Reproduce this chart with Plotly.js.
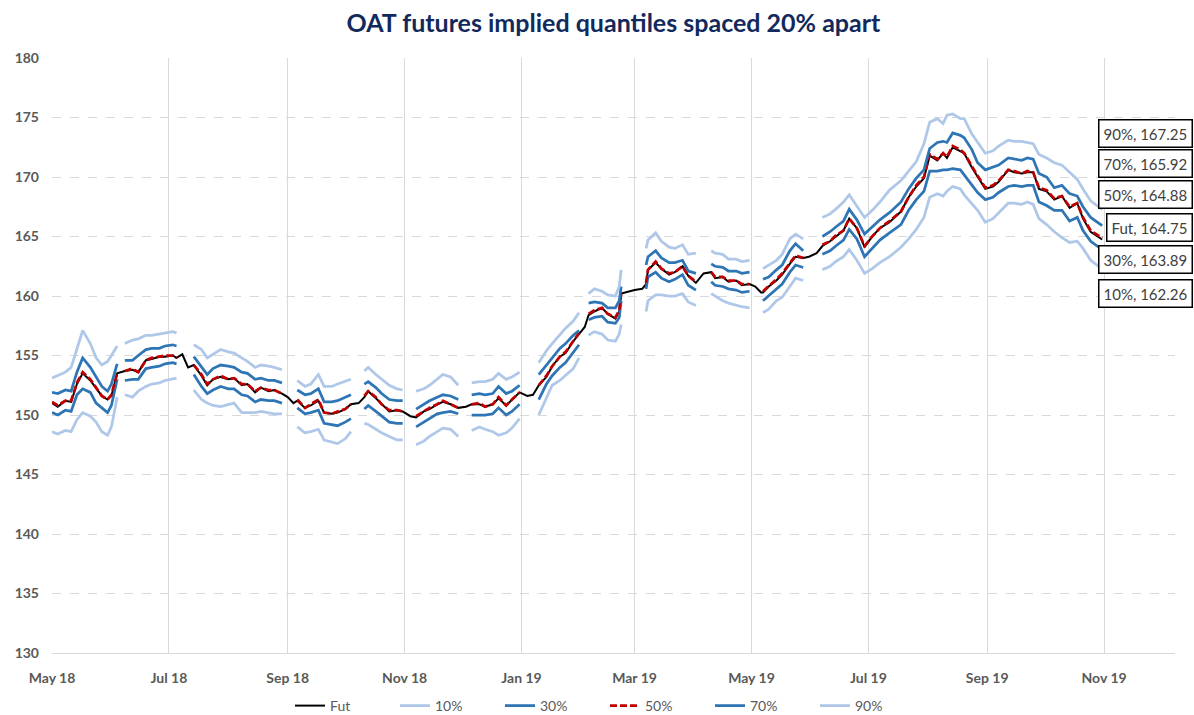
<!DOCTYPE html>
<html>
<head>
<meta charset="utf-8">
<script src="https://cdn.plot.ly/plotly-3.0.1.min.js"></script>
<style>
  body { margin: 0; background: #fff; }
  #plot { width: 1194px; height: 715px; }
</style>
</head>
<body>
<div id="plot"></div>
<script>
// Readings: dates, futures price and implied quantiles (null = no options data)
const dates = [
  '2018-05-01','2018-05-04','2018-05-08','2018-05-11','2018-05-14','2018-05-17','2018-05-21','2018-05-24','2018-05-27','2018-05-30','2018-06-01','2018-06-04',
  '2018-06-06',
  '2018-06-08','2018-06-12','2018-06-15','2018-06-19','2018-06-22','2018-06-26','2018-06-29','2018-07-03','2018-07-05',
  '2018-07-08','2018-07-11',
  '2018-07-14','2018-07-18','2018-07-21','2018-07-24','2018-07-28','2018-08-01','2018-08-04','2018-08-08','2018-08-11','2018-08-15','2018-08-18','2018-08-22','2018-08-25','2018-08-29',
  '2018-09-01','2018-09-04',
  '2018-09-06','2018-09-10','2018-09-13','2018-09-17','2018-09-20','2018-09-24','2018-09-27','2018-10-01','2018-10-04',
  '2018-10-08',
  '2018-10-11','2018-10-13','2018-10-17','2018-10-20','2018-10-24','2018-10-28','2018-10-31',
  '2018-11-04',
  '2018-11-07','2018-11-11','2018-11-14','2018-11-18','2018-11-21','2018-11-25','2018-11-29',
  '2018-12-03',
  '2018-12-06','2018-12-10','2018-12-13','2018-12-17','2018-12-20','2018-12-24','2018-12-27','2018-12-31',
  '2019-01-04','2019-01-07',
  '2019-01-10','2019-01-14','2019-01-17','2019-01-21','2019-01-24','2019-01-28','2019-01-31',
  '2019-02-03',
  '2019-02-05','2019-02-08','2019-02-12','2019-02-15','2019-02-19','2019-02-21','2019-02-22',
  '2019-02-26','2019-03-01','2019-03-05',
  '2019-03-07','2019-03-08','2019-03-12','2019-03-15','2019-03-19','2019-03-22','2019-03-26','2019-03-29','2019-04-02',
  '2019-04-06',
  '2019-04-10','2019-04-12','2019-04-16','2019-04-19','2019-04-23','2019-04-26','2019-04-30',
  '2019-05-03','2019-05-06',
  '2019-05-07','2019-05-10','2019-05-14','2019-05-17','2019-05-21','2019-05-24','2019-05-28',
  '2019-05-31','2019-06-04',
  '2019-06-07','2019-06-11','2019-06-14','2019-06-18','2019-06-21','2019-06-25','2019-06-29','2019-07-03','2019-07-07','2019-07-12',
  '2019-07-18','2019-07-22','2019-07-26','2019-07-30','2019-08-02','2019-08-06','2019-08-09','2019-08-11','2019-08-14','2019-08-18',
  '2019-08-20','2019-08-24','2019-08-27','2019-08-31','2019-09-04','2019-09-07','2019-09-12','2019-09-15','2019-09-19','2019-09-22',
  '2019-09-25','2019-09-28','2019-10-02','2019-10-06','2019-10-10','2019-10-14','2019-10-18','2019-10-21','2019-10-25','2019-10-31'
];

const fut = [
  151.0,150.7,151.2,151.1,152.6,153.5,152.9,152.2,151.6,151.3,151.6,153.5,
  153.6,
  153.7,153.8,153.6,154.6,154.7,154.9,154.9,155.0,154.8,
  155.1,154.0,
  154.2,153.3,152.5,153.0,153.2,153.0,153.1,152.5,152.6,151.9,152.3,152.0,152.1,151.8,
  151.5,151.0,
  151.2,150.6,150.8,151.2,150.2,150.1,150.2,150.5,150.9,
  151.0,
  151.5,152.0,151.4,150.9,150.3,150.4,150.3,
  149.9,
  149.8,150.3,150.5,150.9,151.1,150.9,150.6,
  150.7,
  150.9,150.9,150.7,150.9,151.4,150.8,151.3,151.9,
  151.6,151.7,
  152.5,153.2,154.1,154.9,155.2,156.2,156.8,
  157.4,
  158.4,158.7,159.0,158.5,158.1,158.7,160.2,
  160.4,160.5,160.6,
  161.0,162.2,162.8,162.3,161.8,162.0,162.5,161.7,161.1,
  161.9,
  162.0,161.5,161.6,161.2,161.3,160.9,161.0,
  160.8,160.3,
  160.3,160.8,161.3,161.8,162.7,163.3,163.2,
  163.3,163.6,
  164.2,164.6,165.0,165.5,166.5,165.7,164.1,165.0,165.7,166.2,
  167.1,168.3,169.2,169.9,171.8,171.4,172.0,171.6,172.5,172.2,
  172.0,170.8,170.0,169.0,169.2,169.6,170.6,170.4,170.3,170.4,
  170.4,169.0,168.8,168.1,168.4,167.4,167.8,166.5,165.4,164.75
];

const q10 = [
  148.6,148.4,148.7,148.6,149.6,150.2,149.9,149.4,148.6,148.3,149.0,151.5,
  null,
  151.7,151.5,152.0,152.4,152.6,152.7,152.9,153.0,153.1,
  null,null,
  152.1,151.3,151.0,150.8,150.7,150.9,151.0,150.2,150.2,150.2,150.3,150.2,150.1,150.1,
  null,null,
  149.0,148.5,148.6,148.8,147.9,147.7,147.6,148.0,148.6,
  null,
  149.3,149.2,148.8,148.5,148.2,147.9,147.9,
  null,
  147.5,147.8,148.2,148.6,148.9,148.8,148.2,
  null,
  148.7,149.0,148.8,148.6,148.3,148.5,148.9,149.7,
  null,null,
  150.0,151.5,152.5,152.9,153.3,153.9,154.8,
  null,
  156.7,157.0,156.8,156.3,156.2,156.8,157.6,
  null,null,null,
  158.7,159.6,160.1,160.1,160.0,160.0,160.2,159.5,159.2,
  null,
  160.2,160.0,159.6,159.4,159.2,159.1,159.0,
  null,null,
  158.6,158.9,159.6,159.9,160.8,161.5,161.3,
  null,null,
  162.2,162.5,162.9,163.3,163.9,163.0,161.9,162.3,162.8,163.3,
  164.1,164.8,165.6,166.6,168.3,168.6,168.4,168.8,169.2,169.0,
  168.5,167.8,167.2,166.2,166.5,167.0,167.8,167.8,167.7,167.9,
  167.7,166.5,166.0,165.4,164.9,164.5,164.6,164.0,163.0,162.26
];

const q30 = [
  150.2,150.0,150.4,150.3,151.7,152.2,151.9,151.0,150.6,150.2,150.8,153.0,
  null,
  152.9,153.0,153.0,153.9,154.0,154.1,154.3,154.4,154.3,
  null,null,
  153.4,152.4,151.8,152.1,152.4,152.2,152.2,151.7,151.6,151.1,151.3,151.2,151.2,151.0,
  null,null,
  150.6,150.1,150.2,150.4,149.3,149.2,149.1,149.4,149.7,
  null,
  150.5,150.8,150.3,149.9,149.4,149.3,149.3,
  null,
  149.0,149.4,149.7,150.1,150.2,150.3,150.1,
  null,
  150.0,150.0,150.0,150.1,150.6,150.0,150.3,150.9,
  null,null,
  151.3,152.6,153.3,154.0,154.4,155.2,155.9,
  null,
  158.0,158.2,158.3,157.8,157.7,158.2,159.6,
  null,null,null,
  160.6,161.6,162.0,161.5,161.2,161.4,161.8,160.9,160.5,
  null,
  161.2,160.9,160.8,160.6,160.5,160.3,160.4,
  null,null,
  159.6,160.0,160.6,161.0,162.0,162.6,162.4,
  null,null,
  163.5,163.8,164.2,164.7,165.6,164.8,163.3,164.0,164.7,165.3,
  166.0,167.2,168.1,168.8,170.5,170.5,170.6,170.6,170.7,170.6,
  170.2,169.4,168.7,168.1,168.3,168.7,169.2,169.3,169.2,169.3,
  169.3,167.9,167.6,167.2,167.2,166.3,166.6,165.5,164.6,163.89
];

const q50 = [
  151.1,150.8,151.2,151.2,152.7,153.6,153.0,152.3,151.6,151.3,151.7,153.5,
  null,
  153.7,153.9,153.6,154.6,154.8,154.9,155.0,155.0,154.8,
  null,null,
  154.2,153.4,152.6,153.0,153.3,153.0,153.1,152.6,152.6,152.0,152.3,152.1,152.1,151.8,
  null,null,
  151.3,150.6,150.9,151.3,150.2,150.1,150.3,150.5,150.9,
  null,
  151.6,152.0,151.5,150.9,150.4,150.4,150.3,
  null,
  149.9,150.3,150.6,150.9,151.2,150.9,150.6,
  null,
  150.9,151.0,150.7,150.9,151.5,150.8,151.3,151.9,
  null,null,
  152.5,153.3,154.1,154.9,155.3,156.2,156.9,
  null,
  158.5,158.8,159.0,158.5,158.2,158.8,160.2,
  null,null,null,
  161.1,162.2,162.9,162.3,161.9,162.0,162.5,161.7,161.2,
  null,
  162.0,161.6,161.6,161.3,161.3,161.0,161.0,
  null,null,
  160.4,160.8,161.4,161.9,162.8,163.4,163.2,
  null,null,
  164.3,164.6,165.1,165.5,166.5,165.7,164.2,165.0,165.7,166.3,
  167.1,168.3,169.3,170.0,171.9,171.5,172.0,171.7,172.6,172.3,
  172.0,170.9,170.1,169.1,169.3,169.7,170.6,170.5,170.3,170.5,
  170.4,169.1,168.9,168.2,168.4,167.5,167.8,166.6,165.5,164.88
];

const q70 = [
  151.9,151.8,152.1,152.0,153.6,154.8,154.0,153.2,152.4,152.0,152.6,154.3,
  null,
  154.6,154.6,155.0,155.5,155.6,155.6,155.8,155.9,155.8,
  null,null,
  154.9,154.1,153.4,153.9,154.2,154.1,154.0,153.6,153.5,153.0,153.1,152.9,152.9,152.7,
  null,null,
  152.1,151.7,151.8,152.2,151.1,151.1,151.2,151.5,151.7,
  null,
  152.6,152.8,152.3,151.8,151.3,151.2,151.2,
  null,
  150.5,150.9,151.2,151.5,151.7,151.6,151.3,
  null,
  151.7,151.8,151.7,151.8,152.4,151.8,152.0,152.5,
  null,null,
  153.4,154.2,154.9,155.6,156.0,156.7,157.1,
  null,
  159.4,159.5,159.4,159.0,159.0,159.6,160.8,
  null,null,null,
  162.6,163.3,163.8,163.2,162.8,162.8,163.0,162.1,161.9,
  null,
  162.7,162.5,162.4,162.1,162.1,161.9,162.0,
  null,null,
  161.4,161.6,162.2,162.6,163.8,164.4,163.8,
  null,null,
  165.0,165.4,165.8,166.3,167.3,166.4,165.2,165.8,166.4,167.0,
  167.9,169.0,169.9,170.6,172.4,172.9,173.0,172.9,173.7,173.5,
  173.3,172.3,171.2,170.6,170.8,171.0,171.6,171.5,171.4,171.6,
  171.5,170.3,170.0,169.1,169.3,168.6,168.4,167.5,166.6,165.92
];

const q90 = [
  153.1,153.3,153.6,154.0,155.6,157.1,156.0,154.8,154.2,154.5,155.0,155.8,
  null,
  156.0,156.3,156.4,156.7,156.7,156.8,156.9,157.0,156.9,
  null,null,
  155.9,155.5,154.8,155.1,155.5,155.3,155.2,154.8,154.5,154.0,154.2,154.1,154.0,153.8,
  null,null,
  152.9,152.4,152.6,153.4,152.4,152.4,152.6,152.8,153.0,
  null,
  153.7,154.0,153.4,153.0,152.5,152.2,152.1,
  null,
  152.0,152.2,152.5,153.0,153.4,153.2,152.5,
  null,
  152.7,152.8,152.8,153.0,153.5,153.0,153.2,153.6,
  null,null,
  154.4,155.4,156.0,156.7,157.3,157.9,158.6,
  null,
  160.2,160.6,160.4,160.1,160.0,160.8,162.2,
  null,null,null,
  164.0,164.7,165.3,164.6,164.1,164.0,164.3,163.5,163.6,
  null,
  163.8,163.6,163.5,163.1,163.1,162.9,163.0,
  null,null,
  162.3,162.6,163.0,163.5,164.8,165.2,164.8,
  null,null,
  166.6,166.9,167.3,167.9,168.5,167.6,166.6,167.2,167.9,168.9,
  169.7,170.5,171.3,172.8,174.6,174.9,174.5,175.2,175.3,174.9,
  174.9,173.6,172.9,172.0,172.2,172.6,173.1,173.0,173.0,172.9,
  172.8,171.9,171.6,171.2,171.0,170.4,169.8,169.0,168.0,167.25
];

// Series in legend order
const seriesNames = ['Fut', '10%', '30%', '50%', '70%', '90%'];
const seriesValues = [fut, q10, q30, q50, q70, q90];
const seriesColors = ['#000000', '#AFC7E8', '#2E75B6', '#C00000', '#2E75B6', '#AFC7E8'];

const traces = seriesNames.map((name, i) => ({
    x: dates,
    y: seriesValues[i],
    name: name,
    type: 'scatter',
    mode: 'lines',
    connectgaps: false,
    line: {
        color: seriesColors[i],
        width: name === 'Fut' ? 2 : 2.75,
        dash: name === '50%' ? '7px,3px' : 'solid'
    }
}));

// End-of-series labels, stacked on the right like the Excel data labels
const labelOrder = ['90%', '70%', '50%', 'Fut', '30%', '10%'];
const labelY = [173.66, 171.13, 168.53, 165.76, 163.03, 160.21];

const annotations = labelOrder.map((name, i) => {
    const vals = seriesValues[seriesNames.indexOf(name)];
    return {
        xref: 'paper', yref: 'y',
        x: 1.016, y: labelY[i],
        xanchor: 'right', yanchor: 'middle',
        text: name + ', ' + vals[vals.length - 1].toFixed(2),
        showarrow: false,
        font: { family: 'Lato, sans-serif', size: 15, color: '#404040' },
        bgcolor: '#ffffff',
        bordercolor: '#000000',
        borderwidth: 1.5,
        borderpad: 4
    };
});

const layout = {
    width: 1194,
    height: 715,
    margin: { l: 52, r: 19, t: 58, b: 62 },
    paper_bgcolor: '#ffffff',
    plot_bgcolor: '#ffffff',
    font: { family: 'Lato, sans-serif', color: '#595959' },
    title: {
        text: 'OAT futures implied quantiles spaced 20% apart',
        font: { family: 'Lato, sans-serif', size: 25, color: '#12295C', weight: 'bold' },
        x: 0.5, xref: 'paper', xanchor: 'center',
        y: 1 - 23 / 715, yref: 'container', yanchor: 'middle'
    },
    xaxis: {
        type: 'date',
        range: ['2018-05-01', '2019-12-08'],
        tick0: '2018-05-01',
        dtick: 'M2',
        tickformat: '%b %y',
        showgrid: true,
        gridcolor: '#D9D9D9',
        gridwidth: 1,
        showline: true,
        linecolor: '#D9D9D9',
        linewidth: 1,
        zeroline: false,
        ticks: '',
        ticklabelstandoff: 12,
        tickfont: { size: 14, color: '#595959', weight: 'bold' }
    },
    yaxis: {
        range: [130, 180],
        dtick: 5,
        tick0: 130,
        showgrid: true,
        gridcolor: '#D9D9D9',
        griddash: 'dash',
        gridwidth: 1,
        zeroline: false,
        showline: false,
        ticks: '',
        ticklabelstandoff: 12,
        tickfont: { size: 14, color: '#595959', weight: 'bold' }
    },
    showlegend: true,
    legend: {
        orientation: 'h',
        xref: 'container', yref: 'container',
        x: 290 / 1194, xanchor: 'left',
        y: 1 - 706 / 715, yanchor: 'middle',
        entrywidth: 60,
        entrywidthmode: 'pixels',
        font: { size: 14, color: '#595959' },
        bgcolor: 'rgba(0,0,0,0)'
    },
    annotations: annotations
};

Plotly.newPlot('plot', traces, layout, { displayModeBar: false, staticPlot: true });
</script>
</body>
</html>
